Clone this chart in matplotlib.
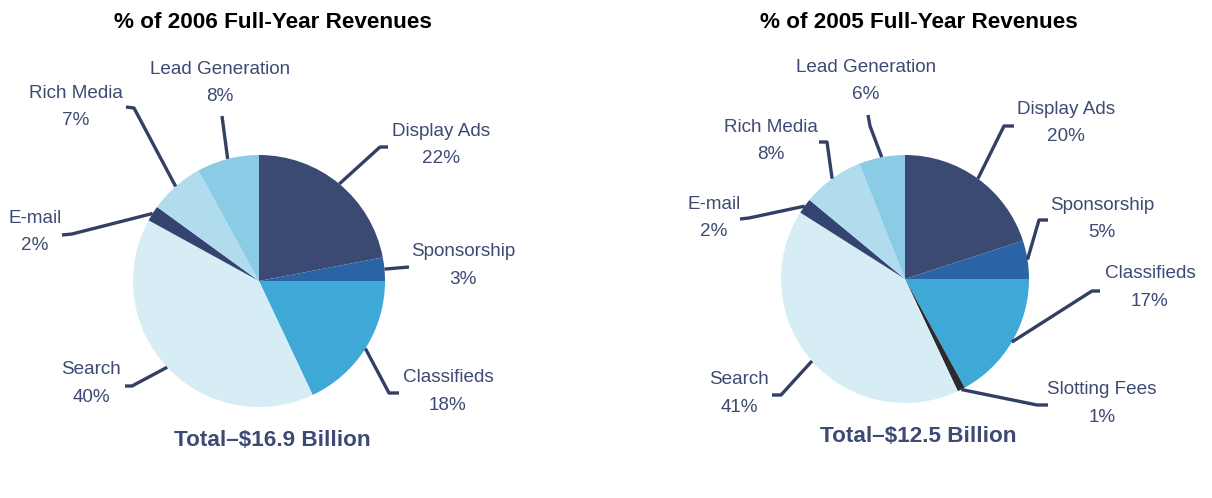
import matplotlib
matplotlib.use("Agg")
import matplotlib.pyplot as plt
import numpy as np

# 2006 revenue split (clockwise from 12 o'clock)
labels_2006 = ["Display Ads", "Sponsorship", "Classifieds", "Search", "E-mail", "Rich Media", "Lead Generation"]
shares_2006 = [22, 3, 18, 40, 2, 7, 8]

# 2005 revenue split
labels_2005 = ["Display Ads", "Sponsorship", "Classifieds", "Slotting Fees", "Search", "E-mail", "Rich Media",
               "Lead Generation"]
shares_2005 = [20, 5, 17, 1, 41, 2, 8, 6]

titles = ["% of 2006 Full-Year Revenues", "% of 2005 Full-Year Revenues"]
totals = ["Total\u2013$16.9 Billion", "Total\u2013$12.5 Billion"]

COLORS = {
    "Display Ads": "#3a4a72",
    "Sponsorship": "#2a64a6",
    "Classifieds": "#3ea8d6",
    "Slotting Fees": "#2b2b2b",
    "Search": "#d6edf6",
    "E-mail": "#344470",
    "Rich Media": "#b0dcee",
    "Lead Generation": "#8ccbe6",
}
TEXT = "#3d4a73"
LEADER = "#343f66"
H = 498

# layout, in image pixels: (label centre x, first line y, elbow x, elbow y, end x, end y)
layout_2006 = {
    "Display Ads": (441, 131, 380, 147, 388, 147),
    "Sponsorship": (463, 252, 409, 267, 409, 267),
    "Classifieds": (448, 378, 389, 393, 399, 393),
    "Search": (91, 370, 132, 386, 125, 386),
    "E-mail": (35, 218, 72, 234, 62, 235),
    "Rich Media": (76, 93, 134, 108, 126, 107),
    "Lead Generation": (220, 69, 222, 116, 222, 116),
}
layout_2005 = {
    "Display Ads": (1066, 109, 1004, 126, 1014, 126),
    "Sponsorship": (1102, 205, 1039, 220, 1048, 220),
    "Classifieds": (1150, 274, 1092, 291, 1100, 291),
    "Slotting Fees": (1102, 390, 1037, 405, 1048, 405),
    "Search": (739, 380, 781, 395, 772, 395),
    "E-mail": (714, 204, 749, 218, 740, 219),
    "Rich Media": (771, 127, 827, 142, 819, 142),
    "Lead Generation": (866, 67, 870, 126, 868, 115),
}

fig = plt.figure(figsize=(12.12, 4.98), dpi=100)
ax = fig.add_axes([0, 0, 1, 1])
ax.set_xlim(0, 1212)
ax.set_ylim(0, H)
ax.set_aspect("equal")
ax.axis("off")

font = "Liberation Sans"


def draw_pie(labels, shares, center, radius, layout, title, title_x, total, total_x, total_y):
    cx, cy = center
    wedges, _ = ax.pie(
        shares,
        colors=[COLORS[name] for name in labels],
        startangle=90,
        counterclock=False,
        center=(cx, H - cy),
        radius=radius,
        wedgeprops=dict(linewidth=0),
        frame=True,
    )
    for wedge, name, share in zip(wedges, labels, shares):
        mid = np.deg2rad((wedge.theta1 + wedge.theta2) / 2)
        ax_x = cx + radius * np.cos(mid)
        ax_y = H - cy + radius * np.sin(mid)
        tx, ty, ex, ey, kx, ky = layout[name]
        ax.plot([ax_x, ex, kx], [ax_y, H - ey, H - ky], color=LEADER, lw=2.4,
                solid_capstyle="butt", zorder=3)
        ax.text(tx, H - ty, name, ha="center", va="center", fontsize=13.6,
                color=TEXT, family=font)
        ax.text(tx, H - ty - 27, f"{share}%", ha="center", va="center", fontsize=13.6,
                color=TEXT, family=font)
    ax.text(title_x, H - 22, title, ha="center", va="center", fontsize=16.2,
            fontweight="bold", color="black", family=font)
    ax.text(total_x, H - total_y, total, ha="center", va="center", fontsize=16.2,
            fontweight="bold", color=TEXT, family=font)


draw_pie(labels_2006, shares_2006, (259, 281), 126, layout_2006, titles[0], 273, totals[0], 272, 440)
draw_pie(labels_2005, shares_2005, (905, 279), 124, layout_2005, titles[1], 919, totals[1], 918, 436)

ax.set_xlim(0, 1212)
ax.set_ylim(0, H)
ax.axis("off")
fig.savefig("out.png", dpi=100)
